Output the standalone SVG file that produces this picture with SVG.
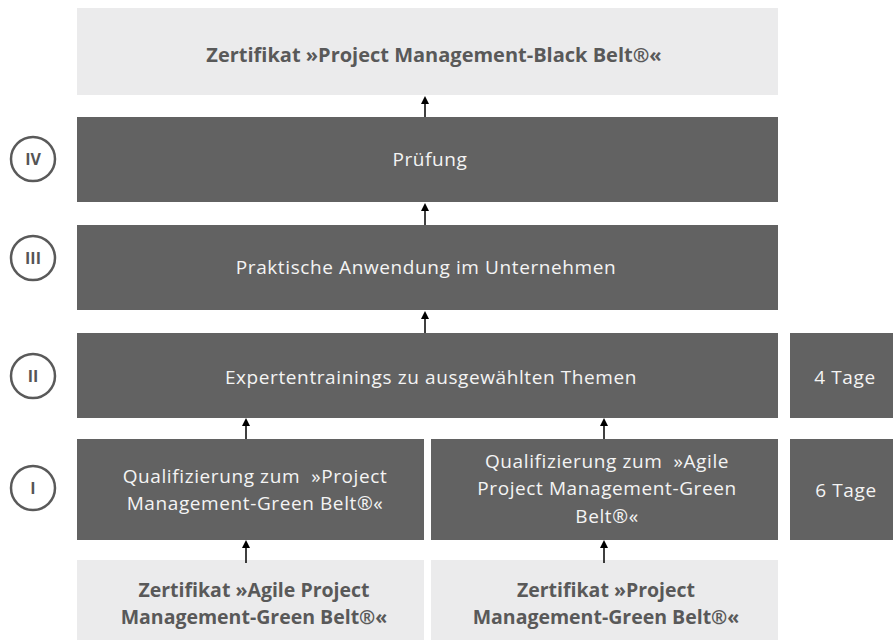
<svg xmlns="http://www.w3.org/2000/svg" width="893" height="640" viewBox="0 0 893 640">
<defs>
<style>
.light{fill:#ebebec}
.dark{fill:#626262}
.tl{font-family:"Open Sans","Liberation Sans",sans-serif;font-size:19px;letter-spacing:0.6px;fill:#f4f4f4;text-anchor:middle}
.tb{font-family:"Open Sans","Liberation Sans",sans-serif;font-size:19.5px;font-weight:bold;fill:#595959;text-anchor:middle}
.circ{fill:#fff;stroke:#5a5a5a;stroke-width:2.5}
.ct{font-family:"Open Sans","Liberation Sans",sans-serif;font-size:16px;font-weight:bold;fill:#555;text-anchor:middle}
.conn{stroke:#000;stroke-width:1.5;fill:none;marker-end:url(#ah)}
</style>
<marker id="ah" markerWidth="8" markerHeight="8" refX="6" refY="4" orient="auto" markerUnits="userSpaceOnUse">
<path d="M0,0 L8,4 L0,8 z" fill="#000"/>
</marker>
</defs>
<rect width="893" height="640" fill="#fff"/>
<g id="black-belt">
<rect class="light" x="77" y="8" width="701" height="87"/>
<text class="tb" x="434" y="62" style="font-size:20px">Zertifikat »Project Management-Black Belt®«</text>
</g>
<g id="pruefung">
<rect class="dark" x="77" y="117" width="701" height="85"/>
<text class="tl" x="430" y="166">Prüfung</text>
</g>
<g id="praxis">
<rect class="dark" x="77" y="225" width="701" height="85"/>
<text class="tl" x="426" y="274">Praktische Anwendung im Unternehmen</text>
</g>
<g id="experten">
<rect class="dark" x="77" y="333" width="701" height="85"/>
<text class="tl" x="431" y="384">Expertentrainings zu ausgewählten Themen</text>
</g>
<g id="tage4">
<rect class="dark" x="790" y="333" width="103" height="85"/>
<text class="tl" x="845" y="384">4 Tage</text>
</g>
<g id="quali-pm">
<rect class="dark" x="77" y="439" width="347" height="101"/>
<text class="tl" x="255" y="483" xml:space="preserve">Qualifizierung zum  »Project</text>
<text class="tl" x="255" y="510">Management-Green Belt®«</text>
</g>
<g id="quali-apm">
<rect class="dark" x="431" y="439" width="347" height="101"/>
<text class="tl" x="607" y="468" xml:space="preserve">Qualifizierung zum  »Agile</text>
<text class="tl" x="607" y="495">Project Management-Green</text>
<text class="tl" x="607" y="523">Belt®«</text>
</g>
<g id="tage6">
<rect class="dark" x="790" y="439" width="103" height="101"/>
<text class="tl" x="846" y="497">6 Tage</text>
</g>
<g id="zert-apm">
<rect class="light" x="77" y="560" width="347" height="80"/>
<text class="tb" x="254" y="597">Zertifikat »Agile Project</text>
<text class="tb" x="254" y="624">Management-Green Belt®«</text>
</g>
<g id="zert-pm">
<rect class="light" x="431" y="560" width="347" height="80"/>
<text class="tb" x="606" y="597">Zertifikat »Project</text>
<text class="tb" x="606" y="624">Management-Green Belt®«</text>
</g>
<g id="level-IV"><circle class="circ" cx="33" cy="159" r="22"/><text class="ct" x="33" y="165">IV</text></g>
<g id="level-III"><circle class="circ" cx="33" cy="258" r="22"/><text class="ct" x="33" y="264">III</text></g>
<g id="level-II"><circle class="circ" cx="33" cy="376" r="22"/><text class="ct" x="33" y="382">II</text></g>
<g id="level-I"><circle class="circ" cx="33" cy="488" r="22"/><text class="ct" x="33" y="494">I</text></g>
<g id="connectors">
<line class="conn" x1="425" y1="117" x2="425" y2="98"/>
<line class="conn" x1="425" y1="225" x2="425" y2="205"/>
<line class="conn" x1="425" y1="333" x2="425" y2="313"/>
<line class="conn" x1="246" y1="439" x2="246" y2="420"/>
<line class="conn" x1="604" y1="439" x2="604" y2="420"/>
<line class="conn" x1="246" y1="563" x2="246" y2="542"/>
<line class="conn" x1="604" y1="563" x2="604" y2="542"/>
</g>
</svg>
